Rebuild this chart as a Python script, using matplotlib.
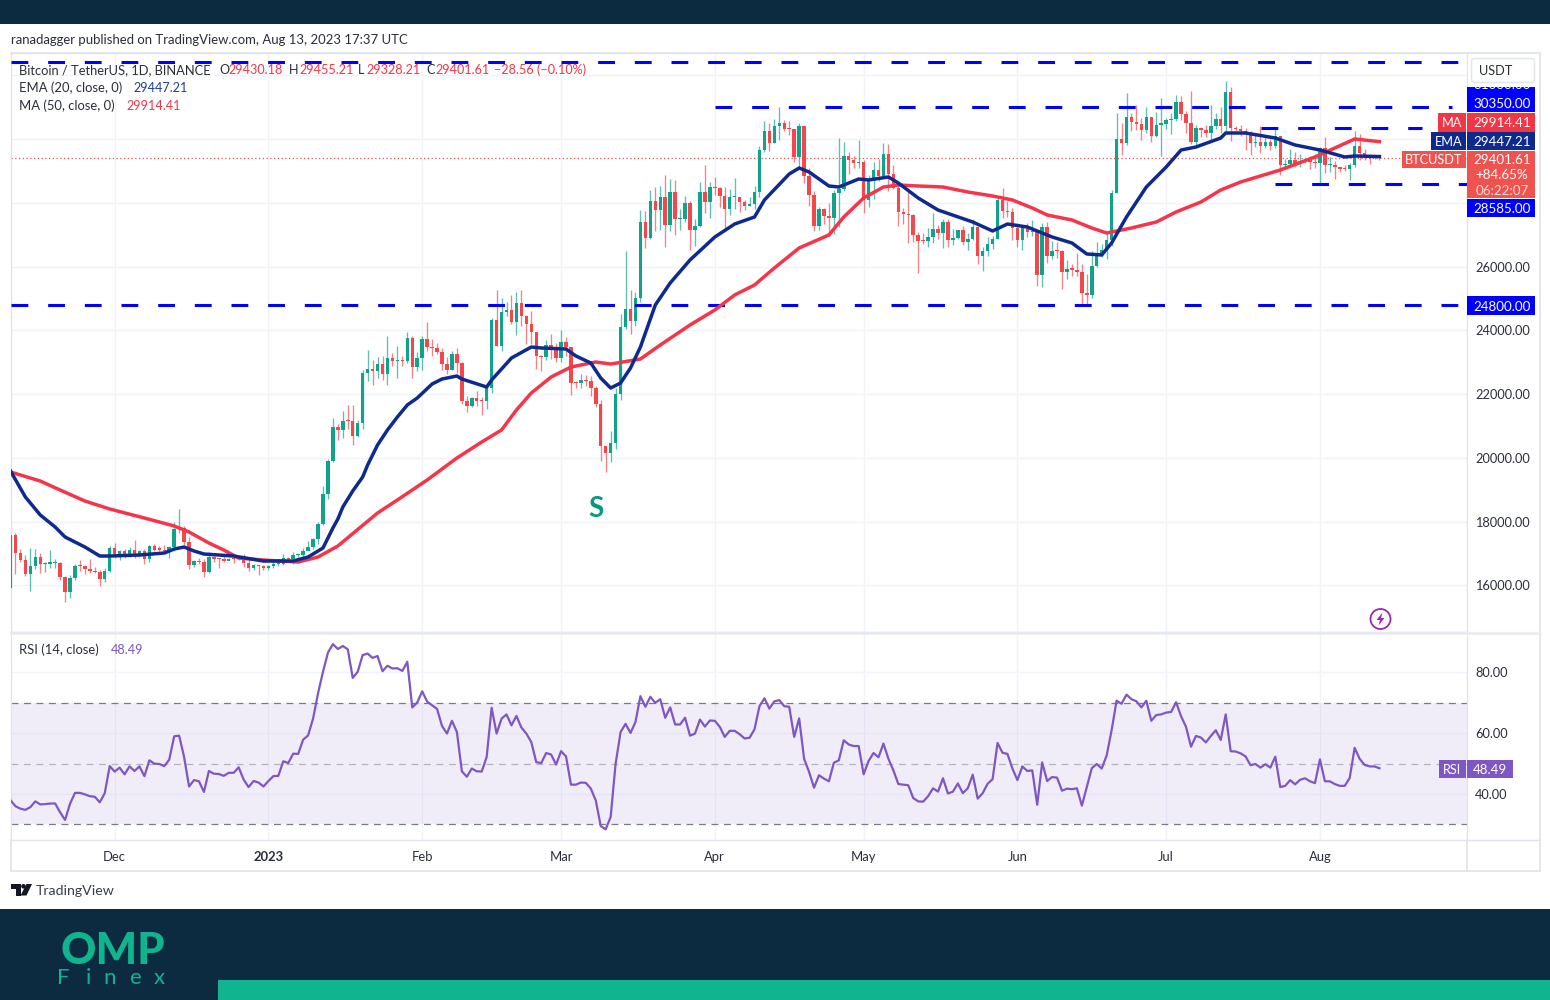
import numpy as np
import pandas as pd
import matplotlib
matplotlib.use("Agg")
import matplotlib.pyplot as plt
from matplotlib.patches import Rectangle, Circle, Polygon, FancyBboxPatch

plt.rcParams['font.family'] = ['Lato', 'DejaVu Sans']

# ---------------- data ----------------
first_day = '2022-11-10'
first_open = 15922
closes = [
 17586,17034,16799,16353,16618,16884,16669,16687,16697,16712,16280,15781,16226,16603,16599,16522,16458,16428,16212,16442,17163,
 16977,17092,16885,17105,16966,17090,16836,17224,17128,17127,17085,17209,17774,17804,17356,16632,16776,16738,16438,16895,16824,16821,16778,16837,16830,16919,16706,16547,16633,16607,16542,
 16616,16672,16675,16850,16831,16951,16955,17091,17196,17446,17934,18869,19909,20976,20880,21169,21161,20688,21086,22676,22777,22720,22934,22636,23117,23032,23078,23031,23774,22840,23130,
 23731,23488,23431,23326,22932,22762,23249,22963,21796,21625,21862,21783,21773,22199,24324,23517,24569,24631,24271,24844,24450,24188,23947,23198,23158,23554,23492,23141,
 23628,23465,22354,22346,22430,22409,22198,21705,20362,20150,20455,21997,24113,24670,24285,24998,27395,26907,28038,27767,28175,27307,28333,27493,27494,27994,27139,27268,28348,28033,28478,
 28465,28199,27800,28170,28175,28033,27906,27947,28334,29652,30235,29884,30399,30485,30318,30315,29445,30397,28822,28245,27262,27816,27591,27514,28300,28423,29473,29340,29248,29268,
 28091,28680,29027,28847,29534,28905,28454,27694,27658,27620,26988,26807,26784,26930,27171,27036,27398,26832,26890,27129,26753,26851,27225,26334,26476,26719,26868,28085,27745,27702,27219,
 26819,27249,27069,27116,25728,27230,26339,26498,26477,25841,25925,25902,25842,25160,25116,26028,26340,26510,26840,28307,29993,29884,30687,30527,30462,30267,30692,30077,30447,30472,
 30585,30617,31156,30767,30514,29895,30348,30292,30171,30414,30620,30391,31476,30334,30295,30249,30145,29856,29913,29792,29908,29771,30082,29176,29228,29354,29212,29314,29352,29275,29230,
 29705,29186,29193,29113,29042,29041,29180,29766,29561,29429,29397,29416,29401]
highs = [
 17590,17655,17155,16950,17190,17134,17015,16751,17109,16820,16747,16310,16315,16677,16812,16651,16816,16595,16480,16550,17247,
 17320,17106,17159,17202,17425,17107,17139,17270,17300,17227,17270,17242,18000,18387,17850,17530,16800,16876,16821,17061,16921,16868,16955,16860,16864,16939,16972,16787,16664,16644,16650,
 16628,16760,16777,16977,16879,17041,16977,17176,17398,17490,18000,19117,19964,21259,21050,21473,21648,21650,21188,22755,23371,23078,23165,23180,23816,23290,23500,23185,23950,23815,23320,
 23812,24255,23720,23590,23440,23158,23350,23453,22995,21940,21906,22090,21900,22320,24380,25250,25021,24877,25121,25192,25250,24476,24600,23880,23218,23689,23881,23600,
 24000,23780,23476,22420,22618,22603,22555,22240,21800,20364,20850,22185,24500,26500,25250,25200,27756,27725,28390,28500,28528,28868,28750,28700,27787,28200,28044,27500,28650,29184,28656,
 28800,28500,28494,28444,28775,28180,28100,28178,28530,29770,30550,30500,30619,31000,30600,30550,30320,30485,30410,29090,28374,27876,27820,28000,28399,30036,29890,29599,29461,29969,
 29337,28879,29266,29379,29858,29850,29173,28663,27840,28336,27650,27075,27060,27200,27663,27295,27480,27485,27182,27150,27280,27050,27475,27213,26600,26938,26950,28195,28447,28050,27834,
 27350,27300,27350,27456,27140,27355,27391,26800,26780,26530,26200,26090,26435,26070,25750,26475,26777,26700,27040,28400,30800,30500,31431,30800,31060,30650,31000,30700,30830,31282,
 30650,30800,31380,31330,30880,31500,30450,30380,30450,31050,30800,30990,31818,31640,30390,30450,30340,30240,30200,30420,30050,29990,30350,30100,29380,29690,29580,29530,29415,29450,29530,
 29750,30050,29440,29315,29100,29190,29250,30244,30150,29690,29540,29480,29455]
lows = [
 15900,16361,16750,16300,15815,16527,16378,16410,16542,16548,16180,15476,15616,16168,16458,16350,16399,16406,15995,16100,16410,
 16855,16787,16860,16880,16867,16907,16679,16729,17070,17090,17071,16871,17080,17660,17275,16527,16584,16660,16256,16398,16723,16560,16731,16794,16700,16789,16591,16464,16488,16333,16470,
 16499,16542,16605,16656,16754,16679,16908,16908,17104,17140,17315,17900,18700,19880,20551,20611,20920,20407,20658,20900,22422,22292,22500,22450,22300,22892,22500,22880,22981,22500,22714,
 22760,23363,23205,23253,22745,22628,22746,22665,21688,21451,21599,21630,21351,21532,22047,23505,23339,24450,24192,23840,24148,23574,23585,22800,22722,23077,23100,23020,
 23020,23195,21971,22198,22201,22257,21927,21580,19900,19549,19886,20271,21813,24051,23896,24123,24890,26578,26865,27124,27156,26601,27105,27000,27156,27400,26508,26631,27240,27686,27525,
 28240,27870,27200,27630,27805,27711,27766,27883,27800,28170,29590,29610,29880,29966,30234,30121,29266,29100,28630,27900,27125,27130,27348,26950,27020,27235,28375,28891,29084,29080,
 27667,27873,28120,28670,28809,28379,28433,27273,27337,26740,26773,25811,26691,26605,26727,26852,26566,26615,26666,26850,26666,26530,26821,26080,25871,26330,26550,26860,27524,27540,26840,
 26605,26504,26920,26951,25388,25351,26121,26228,26269,25300,25608,25700,25712,24820,24750,25000,26000,26300,26250,26650,28300,29500,29800,30250,30280,29950,30200,29900,30050,29450,
 30300,30160,30550,30600,30200,29830,29700,30050,30070,29950,30300,30180,30250,29920,30250,30080,29660,29500,29750,29570,29700,29640,29730,28861,29050,29100,29120,29130,29250,29050,29100,
 28585,28920,28960,28750,28950,28980,28700,29130,29350,29330,29220,29360,29328]

ema_days = [0,3,6,9,11,15,18,20,26,31,33,35,37,39,45,51,57,60,63,65,66,67,69,71,72,74,76,78,80,82,85,87,90,91,96,97,101,105,107,112,114,117,119,121,123,125,127,130,133,137,142,146,150,152,157,159,161,165,167,171,173,177,179,183,187,194,198,201,205,210,214,217,220,222,225,229,233,236,239,244,245,249,255,259,264,269,271,276]
ema_vals = [19589,18774,18210,17833,17520,17206,16924,16924,16956,17018,17144,17206,17081,16987,16924,16767,16767,16893,17175,17802,18084,18460,18962,19401,19777,20404,20874,21282,21658,21877,22316,22473,22567,22473,22222,22442,23131,23476,23445,23414,23194,22975,22504,22191,22348,22818,23476,24793,25483,26204,26925,27332,27552,28085,28900,29088,28963,28524,28492,28743,28712,28806,28618,28147,27771,27395,27113,27332,27238,26925,26737,26392,26361,26737,27552,28492,29119,29652,29746,30028,30185,30185,30028,29809,29652,29433,29464,29447]
ma_days = [0,6,10,15,20,27,33,36,40,43,46,51,58,62,66,74,78,84,90,95,99,102,105,109,113,118,121,127,131,137,142,146,150,154,159,165,168,172,176,179,183,188,193,198,202,206,209,214,218,221,226,231,235,240,244,248,256,263,271,276]
ma_vals = [19558,19275,18993,18648,18398,18115,17865,17677,17332,17112,16861,16798,16736,16893,17238,18272,18680,19307,19996,20498,20874,21501,22034,22536,22849,23006,22943,23100,23539,24166,24636,25107,25420,25953,26580,26988,27552,28147,28492,28555,28524,28492,28336,28210,28085,27834,27615,27458,27207,27050,27207,27395,27709,28022,28398,28649,29025,29433,29997,29914]

rsi_vals = [
 38,36,35.2,34.8,35.7,37.6,36.6,36.7,36.9,36.9,34,31.5,36.8,40.4,40.4,39.9,39.3,39.1,37.3,40.3,49.2,47.4,48.7,46.5,49.1,47.6,49.1,45.9,51.1,50,49.9,49.2,51.3,59,59.2,52.2,42.5,44.6,44.2,40.7,47.6,46.7,46.6,46,47,47,48.8,44.8,42.3,44.3,43.8,42.5,44.3,45.9,46,50.8,50.2,53.3,53.2,57.9,59.3,64.8,73.1,80.2,86.5,89.3,87.7,88.7,87.6,78.2,80.2,85.7,86.2,84.8,85.4,80.4,82.2,81.3,81.4,80.5,83.5,68.5,70.1,73.8,70.4,69.2,68,62.4,59.9,64.1,60.4,47.5,45.7,48.4,47.5,47.4,52.2,68.4,59.9,
 64.8,66.2,62.6,65.7,61.9,59.9,57.1,50.5,50.2,53.5,53,49.7,54.1,52.4,43.1,43.1,43.8,43.7,41.8,37.9,29.5,28.4,32.5,50,60.4,63.1,60.1,63.7,72.2,68.7,72,70,71.2,65.1,68.5,62.9,62.9,65.1,59.2,59.9,64.5,62.2,64.2,64.1,62.1,58.8,60.8,60.8,59.7,58.3,58.5,61.3,68.9,71.5,68.1,70.5,70.9,68.9,68.7,58.8,64.9,51.6,47.3,42.1,46.2,45.1,44.2,50.3,51.1,57.7,56.3,55.8,55.8,46.5,50.9,53.5,52.1,56.6,51.6,47.8,43.3,43.1,42.9,38.7,37.6,37.5,39.3,41.9,40.8,45.2,40.2,40.8,43.5,40.3,41.9,46.4,38.5,40.3,43.4,44.9,56.8,
 53.6,53.2,48.4,44.6,49.1,47.6,47.8,36.5,50.4,44.3,45.6,45.4,41.1,41.8,41.6,41.9,36.2,42.3,48.5,49.9,48.4,52.7,61,70.7,69.7,72.7,71.2,70.5,68.5,70.7,64.1,66,66.2,66.8,67,70.2,65.6,62.1,55.6,59.1,58.6,57,59.1,61,57.8,66.2,54.1,54,53.4,52.4,49.5,49.9,48.7,49.8,48.7,52.3,42.3,42.7,44.6,43.2,44.7,45.2,44.2,43.6,51.4,44.2,44.2,43.3,42.7,42.7,45.3,55.2,51.6,49.6,49.1,49.1,48.49]

month_starts = ['2022-12-01','2023-01-01','2023-02-01','2023-03-01','2023-04-01','2023-05-01','2023-06-01','2023-07-01','2023-08-01']
month_labels = ['Dec','2023','Feb','Mar','Apr','May','Jun','Jul','Aug']
price_ticks = [16000,18000,20000,22000,24000,26000,28000,30000,32000]
price_labels = ['16000.00','18000.00','20000.00','22000.00','24000.00','26000.00','','','']
rsi_ticks = [40,60,80]

# level, first day, last day of the drawn dashed lines
levels = [32411,31000,30350,28585,24800]
level_from = [0,142,252.2,255,0]
level_to = [293.7,290.7,284.5,293.7,293.7]

last_close = 29401.61
s_day, s_price = 118, 18400

# ---------------- layout ----------------
W, H = 1550, 1000
fig = plt.figure(figsize=(W/100, H/100), dpi=100, facecolor='white')

def axes_px(x0, y0, x1, y1, **kw):
    return fig.add_axes([x0/W, 1-y1/H, (x1-x0)/W, (y1-y0)/H], **kw)

PX_DAY = 4.96
X_ORG = 10.5
xlim = ((11-X_ORG)/PX_DAY, (1467-X_ORG)/PX_DAY)

dates = pd.date_range(first_day, periods=len(closes))
month_pos = [dates.get_loc(pd.Timestamp(m)) for m in month_starts]

GRID = '#f0f3fa'
BORDER = '#e0e3eb'
TXT = '#131722'
TICK = '#2a2e39'

ax = axes_px(11, 53, 1467, 632)
rx = axes_px(11, 632, 1467, 840)
for a in (ax, rx):
    a.set_xlim(*xlim)
    a.set_xticks(month_pos)
    a.grid(True, color=GRID, lw=1)
    a.set_axisbelow(True)
    a.yaxis.tick_right()
    a.tick_params(length=0, labelsize=9.2, labelcolor=TICK, pad=6)
    for s in a.spines.values():
        s.set_color(BORDER); s.set_linewidth(0.9)

ax.set_ylim(14542, 32693)
ax.set_yticks(price_ticks)
ax.set_yticklabels(price_labels)
ax.tick_params(axis='x', labelbottom=False)

# candles
x = np.arange(len(closes))
c = np.array(closes, float)
o = np.r_[first_open, c[:-1]]
h = np.array(highs, float)
l = np.array(lows, float)
up = c >= o
GREEN, RED = '#10a38c', '#f4474b'
cols = np.where(up, GREEN, RED)
ax.vlines(x, l, h, colors=cols, lw=0.95, alpha=0.68, zorder=2)
ax.bar(x, np.maximum(np.abs(c-o), 40), bottom=np.minimum(o, c), width=0.7,
       color=cols, linewidth=0, zorder=3)

# last price dotted line
ax.axhline(last_close, color='#ef5350', lw=0.9, ls=(0, (1, 2)), zorder=1.5)

# levels
for lv, d0, d1 in zip(levels, level_from, level_to):
    ax.plot([d0, d1], [lv, lv], color='#0000ff', lw=2.2, dashes=(5.5, 6.5),
            dash_capstyle='butt', zorder=4)

# averages
ax.plot(ma_days, ma_vals, color='#f5354a', lw=2.5, zorder=5, solid_joinstyle='round')
ax.plot(ema_days, ema_vals, color='#0e2a8f', lw=2.5, zorder=6, solid_joinstyle='round')

ax.text(s_day, s_price, 'S', color='#089981', fontsize=20, fontweight='bold',
        ha='center', va='center', zorder=7)

# RSI
rx.set_ylim(24.9, 93.3)
rx.set_yticks(rsi_ticks)
rx.set_yticklabels([f'{v:.2f}' for v in rsi_ticks])
rx.axhspan(30, 70, color='#7e57c2', alpha=0.1, lw=0, zorder=1)
for lv, col in ((70, '#787b86'), (50, '#b2b5be'), (30, '#787b86')):
    rx.axhline(lv, color=col, lw=0.9, ls=(0, (5.5, 4.5)), zorder=2)
rx.plot(np.arange(len(rsi_vals)), rsi_vals, color='#7e57c2', lw=1.6, zorder=3)
rx.set_xticklabels(month_labels)
rx.tick_params(axis='x', labelsize=9.4, pad=8)
for t, s in zip(rx.get_xticklabels(), month_labels):
    if s == '2023':
        t.set_fontweight('bold')

# ---------------- overlay in pixels ----------------
ov = fig.add_axes([0, 0, 1, 1], facecolor='none', zorder=10)
ov.set_xlim(0, W); ov.set_ylim(H, 0); ov.axis('off')

def rect(x0, y0, x1, y1, col, **kw):
    p = Rectangle((x0, y0), x1-x0, y1-y0, fc=col, ec='none', **kw)
    ov.add_patch(p)
    return p

def T(px, py, s, col=TXT, size=9.2, ha='left', **kw):
    return ov.text(px, py+0.8, s, color=col, fontsize=size, ha=ha, va='center', **kw)

NAVY = '#0d2b40'
TEAL = '#10b48f'
rect(0, 0, W, 24, NAVY)
rect(0, 909, W, H, NAVY)
rect(218, 980, W, H, TEAL)

# frame around the chart
for (x0, y0, x1, y1) in [(11, 53, 1540, 53), (1540, 53, 1540, 871), (11, 871, 1540, 871),
                         (1467, 840, 1467, 871), (11, 840, 11, 871)]:
    ov.plot([x0, x1], [y0, y1], color=BORDER, lw=1.2)
ov.plot([11, 1540], [632.5, 632.5], color='#e8eaf1', lw=1.8)
ov.plot([1467, 1540], [840, 840], color=BORDER, lw=1)

T(11, 39, 'ranadagger published on TradingView.com, Aug 13, 2023 17:37 UTC', size=9.42, col='#2a2e39')

# legend
T(19, 69, 'Bitcoin / TetherUS, 1D, BINANCE', size=9.3, col='#2a2e39')
RV = '#f23645'
for lx, k, vx, v in [(219, 'O', 228, '29430.18'), (289, 'H', 299, '29455.21'),
                     (358, 'L', 366, '29328.21'), (426, 'C', 435, '29401.61')]:
    T(lx, 69, k, size=9.1, col='#2a2e39')
    T(vx, 69, v, size=9.1, col=RV)
T(494, 69, '\u221228.56 (\u22120.10%)', size=9.1, col=RV)
T(19, 87, 'EMA (20, close, 0)', size=9.4, col='#2a2e39')
T(133, 87, '29447.21', size=9.1, col='#1c3f9c')
T(19, 105, 'MA (50, close, 0)', size=9.4, col='#2a2e39')
T(126, 105, '29914.41', size=9.1, col=RV)
T(19, 649, 'RSI (14, close)', size=9.4, col='#2a2e39')
T(111, 649, '48.49', size=9.1, col='#7e57c2')

# price axis cover above plot area, then labels
rect(1468, 54, 1539.5, 88, 'white')
btn = FancyBboxPatch((1473, 60), 60, 21, boxstyle='round,pad=1.5,rounding_size=3',
                     fc='white', ec='#e4e6ee', lw=1.1)
ov.add_patch(btn)
T(1496, 70, 'USDT', ha='center', size=9.2, col='#2a2e39')

BLUE = '#0000ff'
WHITE = 'white'
top = rect(1467, 87, 1535, 112, BLUE)
t31 = T(1502, 84, '31000.00', WHITE, ha='center', size=9.6, clip_on=True)
t31.set_clip_path(top)
T(1502, 103, '30350.00', WHITE, ha='center', size=9.6)
rect(1467, 113, 1535, 131.5, '#f23645')
T(1502, 122, '29914.41', WHITE, ha='center', size=9.6)
rect(1438, 113, 1466, 131.5, '#f23645')
T(1452, 122, 'MA', WHITE, ha='center', size=9.2)
rect(1467, 132, 1535, 150, '#0e2a8f')
T(1502, 141, '29447.21', WHITE, ha='center', size=9.6)
rect(1431, 132, 1466, 150, '#0e2a8f')
T(1448.5, 141, 'EMA', WHITE, ha='center', size=9.2)
rect(1467, 150.5, 1535, 198, '#ef5350')
T(1502, 159, '29401.61', WHITE, ha='center', size=9.6)
T(1502, 174, '+84.65%', WHITE, ha='center', size=9.6)
T(1502, 190, '06:22:07', '#fbd9d8', ha='center', size=9.6)
rect(1402, 150.5, 1466, 168, '#ef5350')
T(1434, 159, 'BTCUSDT', WHITE, ha='center', size=9.2)
rect(1467, 199, 1535, 217, BLUE)
T(1502, 208, '28585.00', WHITE, ha='center', size=9.6)
rect(1467, 296, 1535, 315, BLUE)
T(1502, 306, '24800.00', WHITE, ha='center', size=9.6)

rect(1467, 760, 1513, 778, '#7e57c2')
T(1490, 769, '48.49', WHITE, ha='center', size=9.6)
rect(1439, 760, 1466, 778, '#7e57c2')
T(1452.5, 769, 'RSI', WHITE, ha='center', size=9.2)

# lightning badge
ov.add_patch(Circle((1380.5, 619), 10, fc='white', ec='#9c27b0', lw=1.3))
ov.add_patch(Polygon([(1382.5, 612.5), (1376.5, 620), (1380, 620), (1378.5, 625.5),
                      (1384.5, 618), (1381, 618)], closed=True, fc='#9c27b0', ec='none'))

# TradingView mark
ov.add_patch(Polygon([(11, 884), (20.5, 884), (20.5, 895.5), (15.5, 895.5), (15.5, 888.5), (11, 888.5)],
                     closed=True, fc='#131722', ec='none'))
ov.add_patch(Circle((23.5, 886.3), 2.3, fc='#131722', ec='none'))
ov.add_patch(Polygon([(26.5, 884), (32, 884), (26.5, 895.5), (20.5, 895.5)],
                     closed=True, fc='#131722', ec='none'))
T(36, 890, 'TradingView', size=10.2, col='#3a3e4a')

# OMP Finex logo
T(61, 950, 'OMP', TEAL, size=31.5, fontweight='black')
for lx, ch in zip((63, 88, 110, 135, 159), 'Finex'):
    T(lx, 977, ch, TEAL, size=16, ha='center', fontweight='normal')

assert len(closes) == len(highs) == len(lows) == len(rsi_vals) == 277
assert len(ema_days) == len(ema_vals) and len(ma_days) == len(ma_vals)

fig.savefig('out.png', dpi=100, facecolor='white')
